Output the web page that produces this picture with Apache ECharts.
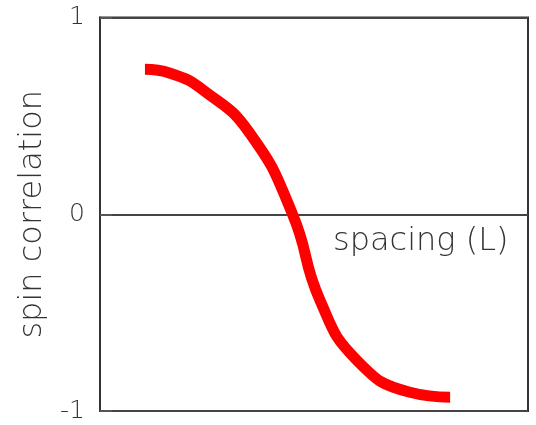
<!DOCTYPE html>
<html>
<head>
<meta charset="utf-8">
<script src="https://cdn.jsdelivr.net/npm/echarts@6/dist/echarts.min.js"></script>
<style>
  html, body { margin: 0; padding: 0; background: #fff; }
  #chart { width: 536px; height: 425px; }
</style>
</head>
<body>
<div id="chart"></div>
<script>
// Spin correlation as a function of spacing (arbitrary units along x)
const spacing = [1.05, 1.64, 2.45, 3.50, 4.49, 5.14, 6.00, 7.24, 8.18];
const correlation = [0.737, 0.717, 0.625, 0.412, 0.005, -0.437, -0.742, -0.905, -0.930];
const yTicks = [-1, 0, 1];

const textFont = '"DejaVu Sans", sans-serif';
const textColor = '#333';

const chart = echarts.init(document.getElementById('chart'), null, { renderer: 'canvas' });
chart.setOption({
  animation: false,
  grid: {
    left: 100, right: 8, top: 17.5, bottom: 14,
    show: true, borderColor: '#333', borderWidth: 2, backgroundColor: 'transparent'
  },
  xAxis: {
    type: 'value', min: 0, max: 10,
    axisLine: { show: false }, axisTick: { show: false },
    axisLabel: { show: false }, splitLine: { show: false }
  },
  yAxis: {
    type: 'value', min: yTicks[0], max: yTicks[yTicks.length - 1], interval: 1,
    name: 'spin correlation', nameLocation: 'middle', nameGap: 41,
    nameTextStyle: { fontFamily: textFont, fontWeight: 200, fontSize: 32, color: textColor },
    axisLine: { show: true, lineStyle: { color: '#333', width: 2 } },
    axisTick: { show: true, inside: true, length: 12, lineStyle: { color: '#555', width: 2 } },
    axisLabel: {
      margin: 15, fontFamily: textFont, fontWeight: 200, fontSize: 25, color: textColor,
      formatter: v => (yTicks.includes(v) ? String(v) : '')
    },
    splitLine: { show: true, lineStyle: { color: '#444', width: 2 } }
  },
  graphic: [{
    type: 'text', left: 333, top: 226,
    style: { text: 'spacing (L)', fontFamily: textFont, fontWeight: 200, fontSize: 32, lineHeight: 32, fill: textColor }
  }],
  series: [{
    type: 'line',
    data: spacing.map((x, i) => [x, correlation[i]]),
    smooth: 0.5,
    showSymbol: false,
    lineStyle: { color: '#ff0000', width: 11, cap: 'butt' }
  }]
});
</script>
</body>
</html>
